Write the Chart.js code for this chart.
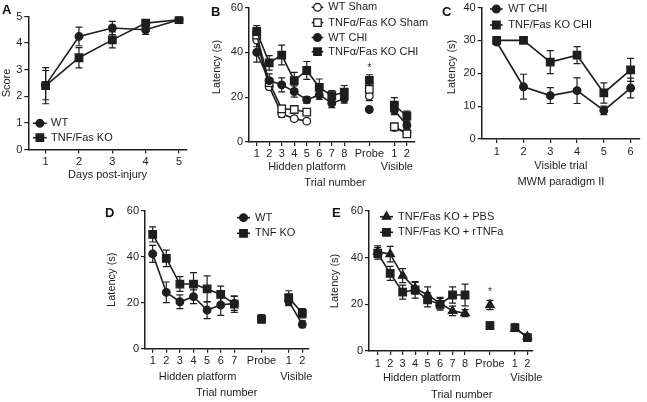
<!DOCTYPE html>
<html>
<head>
<meta charset="utf-8">
<script src="https://cdn.jsdelivr.net/npm/chart.js@4.4.0/dist/chart.umd.min.js"></script>
<style>
body { margin: 0; background: #fff; }
#fig { position: relative; width: 647px; height: 402px; overflow: hidden; background: #fff; }
#fig canvas { position: absolute; }
.tag { position: absolute; font: bold 13px 'Liberation Sans', Arial, sans-serif; line-height: 13px; color: #111; }
</style>
</head>
<body>
<div id="fig">
  <canvas id="cA" width="200" height="182" style="left:0;top:0"></canvas>
  <canvas id="cB" width="225" height="195" style="left:210px;top:0"></canvas>
  <canvas id="cC" width="202" height="190" style="left:445px;top:0"></canvas>
  <canvas id="cD" width="215" height="200" style="left:105px;top:200px"></canvas>
  <canvas id="cE" width="219" height="200" style="left:328px;top:200px"></canvas>
  <div class="tag" style="left:2px;top:3px">A</div>
  <div class="tag" style="left:211px;top:5px">B</div>
  <div class="tag" style="left:442px;top:5px">C</div>
  <div class="tag" style="left:105px;top:206px">D</div>
  <div class="tag" style="left:332px;top:206px">E</div>
</div>
<script>
// ---- A: neuro score ----
const daysA = [1, 2, 3, 4, 5];
const wtA = [2.42, 4.25, 4.57, 4.5, 4.88];
const wtErrA = [0.55, 0.35, 0.25, 0.17, 0.05];
const koA = [2.4, 3.45, 4.12, 4.75, 4.88];
const koErrA = [0.68, 0.38, 0.3, 0.08, 0.05];

// ---- B: MWM, sham vs CHI ----
const trialXB = [1, 2, 3, 4, 5, 6, 7, 8, 10, 12, 13];
const trialLabelsB = ['1', '2', '3', '4', '5', '6', '7', '8', 'Probe', '1', '2'];
const phaseB = [0, 0, 0, 0, 0, 0, 0, 0, 1, 2, 2];
const wtShamB = [45.5, 24.7, 12.6, 10.4, 9.3, null, null, null, 20.5, 6.5, 4.2];
const wtShamErrB = [3, 1.5, 1.5, 1, 1, 0, 0, 0, 2, 1, 1];
const koShamB = [47.7, 26.5, 14.8, 14.5, 13.3, null, null, null, 23.5, 6.8, 3.6];
const koShamErrB = [3, 2, 1.5, 1.5, 1, 0, 0, 0, 2.5, 1, 1];
const wtChiB = [40, 27.4, 25.5, 22.5, 18.8, 21, 17.3, 19.3, 14.5, 14.2, 7.5];
const wtChiErrB = [4.4, 3, 3.1, 2.5, 1.5, 2, 2, 2, 1, 2, 1.5];
const koChiB = [49.3, 35.3, 38.8, 27.4, 31.9, 24.4, 20.7, 22.2, 27.5, 16.4, 11.6];
const koChiErrB = [2.6, 3.2, 4.4, 3.7, 4, 3.7, 2.2, 3, 2.5, 3.4, 2.2];
const starB = [{ x: 10, y: 32.9 }];

// ---- C: visible trials, paradigm II ----
const trialC = [1, 2, 3, 4, 5, 6];
const wtC = [29.5, 15.9, 13.2, 14.7, 8.7, 15.5];
const wtErrC = [0.5, 3.8, 2.4, 3.9, 1.3, 3];
const koC = [30, 30, 23.4, 25.5, 14, 21];
const koErrC = [0, 0, 3.5, 2.6, 3.1, 3.5];

// ---- D: WT vs TNF KO ----
const trialXD = [1, 2, 3, 4, 5, 6, 7, 9, 11, 12];
const trialLabelsD = ['1', '2', '3', '4', '5', '6', '7', 'Probe', '1', '2'];
const phaseD = [0, 0, 0, 0, 0, 0, 0, 1, 2, 2];
const wtD = [41.2, 24.5, 20.4, 22.6, 16.8, 19, 19.7, 13.2, 20.7, 10.6];
const wtErrD = [3.7, 4.5, 3, 3, 3.7, 4.5, 3, 1.5, 2, 1.5];
const koD = [49.7, 39.3, 28.1, 28.1, 26, 23.6, 19.4, 12.8, 22.2, 15.4];
const koErrD = [3.3, 3.6, 3.2, 5, 5.7, 3.6, 3.6, 1.5, 3, 2];

// ---- E: PBS vs rTNFa ----
const trialXE = [1, 2, 3, 4, 5, 6, 7, 8, 10, 12, 13];
const trialLabelsE = ['1', '2', '3', '4', '5', '6', '7', '8', 'Probe', '1', '2'];
const phaseE = [0, 0, 0, 0, 0, 0, 0, 0, 1, 2, 2];
const pbsE = [42.6, 41.5, 32.3, 26.9, 24, 20.5, 17.2, 16.2, 19.7, 9.7, 6.1];
const pbsErrE = [2.5, 3.3, 3, 2.5, 3.5, 2.5, 2, 1.5, 2, 1, 1];
const rtnfE = [41.9, 33.3, 25.2, 26.2, 21.9, 20, 24, 24, 10.9, 10, 5.7];
const rtnfErrE = [2.5, 3, 3, 3.5, 3, 2.5, 3.5, 4.7, 1.5, 1.5, 1];
const starE = [{ x: 10, y: 25.2 }];

const ink = '#1e1e1e';
const fam = "'Liberation Sans', Arial, sans-serif";
Chart.defaults.font.family = fam;
Chart.defaults.font.size = 11;
Chart.defaults.color = ink;

// build {x,y,e} points, with a null break between phases so lines don't join
function points(xs, ys, errs, phase) {
    const out = [];
    xs.forEach((x, i) => {
        if (phase && i > 0 && phase[i] !== phase[i - 1]) {
            out.push({ x: (x + xs[i - 1]) / 2, y: null });
        }
        out.push({ x: x, y: ys[i], e: errs[i] });
    });
    return out;
}

const radius = { circle: 3.8, rect: 5.3, triangle: 4.9 };

function series(label, data, style, open) {
    return {
        label: label,
        data: data,
        pointStyle: style,
        pointRadius: radius[style],
        pointHoverRadius: radius[style],
        pointBackgroundColor: open ? '#fff' : ink,
        pointBorderColor: ink,
        pointBorderWidth: 1.3,
        borderColor: ink,
        borderWidth: 1.6,
        spanGaps: false,
        fill: false,
        tension: 0,
        open: open
    };
}

function drawMarker(ctx, style, x, y, open) {
    const r = radius[style];
    ctx.beginPath();
    if (style === 'circle') {
        ctx.arc(x, y, r, 0, Math.PI * 2);
    } else if (style === 'rect') {
        const s = r * Math.SQRT1_2;
        ctx.rect(x - s, y - s, 2 * s, 2 * s);
    } else {
        ctx.moveTo(x, y - r);
        ctx.lineTo(x + r * 0.866, y + r * 0.5);
        ctx.lineTo(x - r * 0.866, y + r * 0.5);
        ctx.closePath();
    }
    ctx.fillStyle = open ? '#fff' : ink;
    ctx.fill();
    ctx.lineWidth = 1.3;
    ctx.strokeStyle = ink;
    ctx.stroke();
}

const errorBars = {
    id: 'errorBars',
    beforeDatasetsDraw(chart) {
        const ctx = chart.ctx;
        const xs = chart.scales.x, ys = chart.scales.y;
        ctx.save();
        ctx.strokeStyle = ink;
        ctx.lineWidth = 1.2;
        chart.data.datasets.forEach(ds => {
            ds.data.forEach(p => {
                if (p.y === null || !p.e) return;
                const px = xs.getPixelForValue(p.x);
                const y1 = ys.getPixelForValue(p.y + p.e);
                const y2 = ys.getPixelForValue(p.y - p.e);
                ctx.beginPath();
                ctx.moveTo(px, y1); ctx.lineTo(px, y2);
                ctx.moveTo(px - 3.5, y1); ctx.lineTo(px + 3.5, y1);
                ctx.moveTo(px - 3.5, y2); ctx.lineTo(px + 3.5, y2);
                ctx.stroke();
            });
        });
        ctx.restore();
    }
};

const figLegend = {
    id: 'figLegend',
    afterDraw(chart, args, o) {
        if (!o.rows) return;
        const ctx = chart.ctx;
        ctx.save();
        o.rows.forEach((y, i) => {
            const ds = chart.data.datasets[o.order[i]];
            ctx.strokeStyle = ink;
            ctx.lineWidth = 1.6;
            ctx.beginPath();
            ctx.moveTo(o.x, y); ctx.lineTo(o.x + o.len, y);
            ctx.stroke();
            drawMarker(ctx, ds.pointStyle, o.x + o.len / 2, y, ds.open);
            ctx.fillStyle = ink;
            ctx.font = '11px ' + fam;
            ctx.textAlign = 'left';
            ctx.textBaseline = 'middle';
            ctx.fillText(ds.label, o.tx, y);
        });
        ctx.restore();
    }
};

// group labels under the x axis, asterisks, and an optional y title placed by hand
const figText = {
    id: 'figText',
    afterDraw(chart, args, o) {
        const ctx = chart.ctx;
        const xs = chart.scales.x, ys = chart.scales.y;
        ctx.save();
        ctx.fillStyle = ink;
        ctx.textAlign = 'center';
        ctx.textBaseline = 'middle';
        ctx.font = '11px ' + fam;
        (o.labels || []).forEach(l => {
            ctx.fillText(l.text, xs.getPixelForValue(l.x), l.y);
        });
        if (o.ytitle) {
            ctx.save();
            ctx.translate(o.ytitle.x, o.ytitle.y);
            ctx.rotate(-Math.PI / 2);
            ctx.fillText(o.ytitle.text, 0, 0);
            ctx.restore();
        }
        ctx.font = '10px ' + fam;
        (o.stars || []).forEach(s => {
            ctx.fillText('*', xs.getPixelForValue(s.x), ys.getPixelForValue(s.y));
        });
        ctx.restore();
    }
};

function axisStyle() {
    return {
        grid: { drawOnChartArea: false, drawTicks: true, tickLength: 4, color: ink, lineWidth: 1.2 },
        border: { color: ink, width: 1.5 }
    };
}

function makeChart(id, o) {
    return new Chart(document.getElementById(id), {
        type: 'line',
        data: { datasets: o.datasets },
        options: {
            responsive: false,
            animation: false,
            devicePixelRatio: 1,
            events: [],
            layout: { padding: { left: 0, top: o.padTop, right: o.padRight, bottom: 0 } },
            plugins: {
                legend: { display: false },
                tooltip: { enabled: false },
                figLegend: o.legend,
                figText: { labels: o.groups, stars: o.stars, ytitle: o.ytitlePos }
            },
            scales: {
                x: Object.assign(axisStyle(), {
                    type: 'linear',
                    min: o.xmin,
                    max: o.xmax,
                    afterBuildTicks: s => { s.ticks = o.ticks.map(v => ({ value: v })); },
                    afterFit: s => { s.height = o.xh; },
                    ticks: {
                        autoSkip: false, maxRotation: 0, padding: o.tp,
                        font: { size: 11, lineHeight: 1 },
                        callback: (v, i) => o.tickLabels[i]
                    },
                    title: o.xtitle
                        ? { display: true, text: o.xtitle, padding: 0, font: { size: 11, lineHeight: o.xlh || 1.2 } }
                        : { display: false }
                }),
                y: Object.assign(axisStyle(), {
                    min: o.ymin,
                    max: o.ymax,
                    afterFit: s => { s.width = o.yw; },
                    ticks: { stepSize: o.step, padding: 2, font: { size: 11, lineHeight: 1 } },
                    title: { display: !o.ytitlePos, text: o.ytitle, padding: 0, font: { size: 11 } }
                })
            }
        },
        plugins: [errorBars, figLegend, figText]
    });
}

// A
makeChart('cA', {
    datasets: [
        series('WT', points(daysA, wtA, wtErrA), 'circle', false),
        series('TNF/Fas KO', points(daysA, koA, koErrA), 'rect', false)
    ],
    padTop: 16.5, padRight: 13.3, yw: 28.3, xh: 32.5,
    xmin: 0.48, xmax: 5.23, ticks: daysA, tickLabels: daysA.map(String), tp: 3,
    ymin: 0, ymax: 5, step: 1, ytitle: 'Score', xtitle: 'Days post-injury',
    legend: { x: 33, len: 13.7, tx: 51, rows: [123.3, 137.7], order: [0, 1] }
});

// B
makeChart('cB', {
    datasets: [
        series('TNF\u03b1/Fas KO CHI', points(trialXB, koChiB, koChiErrB, phaseB), 'rect', false),
        series('WT CHI', points(trialXB, wtChiB, wtChiErrB, phaseB), 'circle', false),
        series('TNF\u03b1/Fas KO Sham', points(trialXB, koShamB, koShamErrB, phaseB), 'rect', true),
        series('WT Sham', points(trialXB, wtShamB, wtShamErrB, phaseB), 'circle', true)
    ],
    padTop: 7.3, padRight: 20, yw: 39, xh: 53,
    xmin: 0.385, xmax: 13.65, ticks: trialXB, tickLabels: trialLabelsB, tp: 2,
    ymin: 0, ymax: 60, step: 20, ytitle: 'Latency (s)',
    ytitlePos: { text: 'Latency (s)', x: 7, y: 67 },
    legend: { x: 101.7, len: 11.6, tx: 118.3, rows: [7.3, 22.6, 37.5, 51.7], order: [3, 2, 1, 0] },
    groups: [
        { text: 'Hidden platform', x: 5.02, y: 166.7 },
        { text: 'Visible', x: 12.2, y: 166.7 },
        { text: 'Trial number', x: 7.26, y: 182.7 }
    ],
    stars: starB
});

// C
makeChart('cC', {
    datasets: [
        series('WT CHI', points(trialC, wtC, wtErrC), 'circle', false),
        series('TNF/Fas KO CHI', points(trialC, koC, koErrC), 'rect', false)
    ],
    padTop: 5.7, padRight: 7, yw: 36.7, xh: 51,
    xmin: 0.44, xmax: 6.35, ticks: trialC, tickLabels: trialC.map(String), tp: 3,
    ymin: 0, ymax: 40, step: 10, ytitle: 'Latency (s)',
    ytitlePos: { text: 'Latency (s)', x: 7, y: 67 },
    xtitle: ['Visible trial', 'MWM paradigm II'], xlh: 1.45,
    legend: { x: 45, len: 12.7, tx: 63.3, rows: [9, 25], order: [0, 1] }
});

// D
makeChart('cD', {
    datasets: [
        series('WT', points(trialXD, wtD, wtErrD, phaseD), 'circle', false),
        series('TNF KO', points(trialXD, koD, koErrD, phaseD), 'rect', false)
    ],
    padTop: 10.7, padRight: 11.7, yw: 40, xh: 51.3,
    xmin: 0.434, xmax: 12.44, ticks: trialXD, tickLabels: trialLabelsD, tp: 3,
    ymin: 0, ymax: 60, step: 20, ytitle: 'Latency (s)',
    legend: { x: 132, len: 13, tx: 150, rows: [17.7, 33.3], order: [0, 1] },
    groups: [
        { text: 'Hidden platform', x: 4.3, y: 176.7 },
        { text: 'Visible', x: 11.56, y: 176.7 },
        { text: 'Trial number', x: 6.44, y: 192.7 }
    ]
});

// E
makeChart('cE', {
    datasets: [
        series('TNF/Fas KO + PBS', points(trialXE, pbsE, pbsErrE, phaseE), 'triangle', false),
        series('TNF/Fas KO + rTNFa', points(trialXE, rtnfE, rtnfErrE, phaseE), 'rect', false)
    ],
    padTop: 11, padRight: 14, yw: 41, xh: 49,
    xmin: 0.30, xmax: 13.45, ticks: trialXE, tickLabels: trialLabelsE, tp: 3,
    ymin: 0, ymax: 60, step: 20, ytitle: 'Latency (s)',
    legend: { x: 52, len: 13, tx: 70, rows: [16.7, 32.3], order: [0, 1] },
    groups: [
        { text: 'Hidden platform', x: 4.53, y: 177.7 },
        { text: 'Visible', x: 12.92, y: 177.7 },
        { text: 'Trial number', x: 7.74, y: 195 }
    ],
    stars: starE
});
</script>
</body>
</html>
